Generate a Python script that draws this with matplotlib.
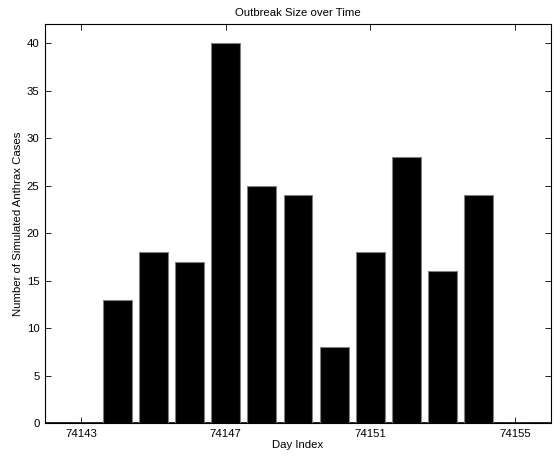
import matplotlib
matplotlib.use("Agg")
import matplotlib.pyplot as plt

plt.rcParams['font.family'] = ['Liberation Sans', 'DejaVu Sans']

days = [74143, 74144, 74145, 74146, 74147, 74148, 74149,
        74150, 74151, 74152, 74153, 74154, 74155]
cases = [0, 13, 18, 17, 40, 25, 24, 8, 18, 28, 16, 24, 0]
xticks = [74143, 74147, 74151, 74155]
yticks = [0, 5, 10, 15, 20, 25, 30, 35, 40]

fig = plt.figure(figsize=(5.6, 4.59), dpi=100)
ax = fig.add_axes([0.0804, 0.0784, 0.9036, 0.8693])

ax.axhline(0, color='black', linewidth=1.2, zorder=1)
ax.bar(days, cases, width=0.8, color='black', edgecolor='#808080',
       linewidth=0.8, zorder=2)

ax.set_xlim(74142, 74156)
ax.set_ylim(0, 42)
ax.set_xticks(xticks)
ax.set_xticklabels([str(t) for t in xticks])
ax.set_yticks(yticks)

ax.tick_params(direction='in', top=True, right=True, labelsize=8.2,
               length=4, width=0.6, pad=4)
for s in ax.spines.values():
    s.set_linewidth(0.8)

ax.set_title('Outbreak Size over Time', fontsize=8.2, pad=6)
ax.set_xlabel('Day Index', fontsize=8.2, labelpad=1)
ax.set_ylabel('Number of Simulated Anthrax Cases', fontsize=8.2, labelpad=3)

fig.savefig('out.png', dpi=100)
